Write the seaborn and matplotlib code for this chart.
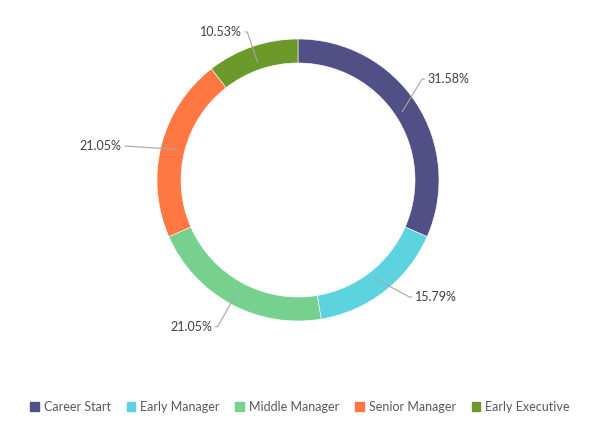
import numpy as np
import matplotlib
matplotlib.use("Agg")
import matplotlib.pyplot as plt
import seaborn as sns

# Data
stages = ["Career Start", "Early Manager", "Middle Manager", "Senior Manager", "Early Executive"]
shares = [31.58, 15.79, 21.05, 21.05, 10.53]
colors = ["#505086", "#5dd3e0", "#76d18f", "#ff7843", "#6b9a2b"]

# Label text positions (data units, ring radius = 1) and alignment
label_pos = [(0.92, 0.716), (0.83, -0.83), (-0.61, -1.04), (-1.25, 0.24), (-0.40, 1.05)]
label_ha = ["left", "left", "right", "right", "right"]

sns.set_theme(style="white")
plt.rcParams["font.family"] = ["Lato", "DejaVu Sans"]

fig = plt.figure(figsize=(6.0, 4.28), dpi=100)
ax = fig.add_axes([0, 0, 1, 1])

wedges, _ = ax.pie(shares, colors=colors, startangle=90, counterclock=False,
                   radius=1.0, wedgeprops=dict(width=0.17, edgecolor="white", linewidth=0.4))

# Leader lines + labels
cum = np.cumsum([0] + shares[:-1])
total = sum(shares)
for i, s in enumerate(shares):
    mid = 90 - (cum[i] + s / 2) / total * 360
    th = np.deg2rad(mid)
    r = 0.88
    x0, y0 = r * np.cos(th), r * np.sin(th)
    tx, ty = label_pos[i]
    gap = 0.02 if label_ha[i] == "left" else -0.02
    elbow = 0.04 if label_ha[i] == "left" else -0.04
    ax.plot([x0, tx - elbow, tx - gap], [y0, ty, ty], color="#a6a6a6", lw=0.8,
            solid_capstyle="butt", zorder=3)
    ax.text(tx, ty, f"{s:.2f}%", ha=label_ha[i], va="center",
            fontsize=9, color="#404040")

ax.set_aspect("equal")
ax.set_xlim(-298 / 141, 302 / 141)
ax.set_ylim((180 - 428) / 141, 180 / 141)
ax.axis("off")

handles = [plt.Rectangle((0, 0), 1, 1, color=c) for c in colors]
fig.legend(handles, stages, loc="center", bbox_to_anchor=(0.5, 0.049), ncol=5,
           frameon=False, fontsize=9, handlelength=0.7, handleheight=0.7,
           handletextpad=0.4, columnspacing=1.25, labelcolor="#595959")

fig.savefig("out.png", dpi=100, facecolor="white")
